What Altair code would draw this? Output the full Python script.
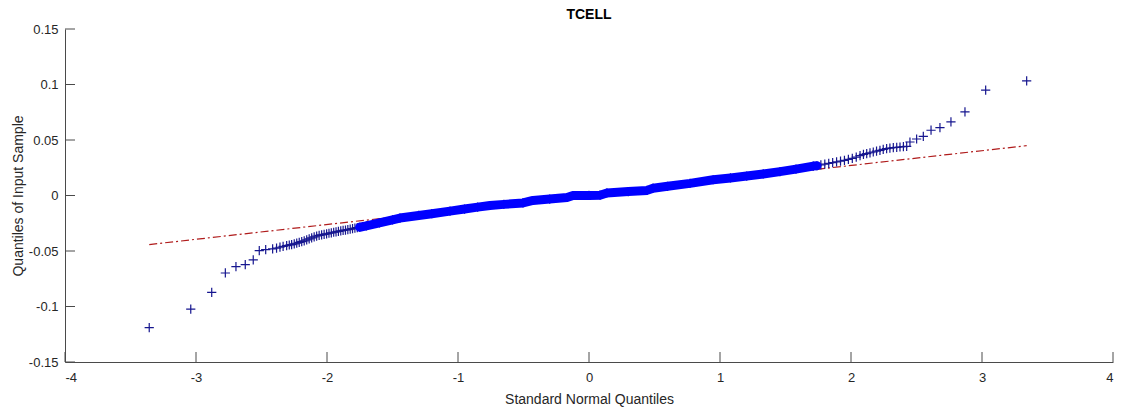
import altair as alt
import pandas as pd

# Lower tail of the sample (sparse points, then the comb leading into the core)
lower_x = [-3.357, -3.040, -2.880, -2.776, -2.695, -2.624, -2.563, -2.517, -2.468, -2.415,
           -2.385, -2.359, -2.335, -2.308, -2.288, -2.270, -2.250, -2.231, -2.212, -2.193,
           -2.174, -2.155, -2.136, -2.117, -2.098, -2.079, -2.060, -2.041, -2.022, -2.003,
           -1.985, -1.967, -1.949, -1.931, -1.913, -1.895, -1.877, -1.859, -1.841, -1.823,
           -1.805, -1.787, -1.769]
lower_y = [-0.1190, -0.1023, -0.0873, -0.0698, -0.0641, -0.0623, -0.0580, -0.0496, -0.0487, -0.0481,
           -0.0474, -0.0466, -0.0458, -0.0451, -0.0446, -0.0442, -0.0436, -0.0430, -0.0422, -0.0415,
           -0.0408, -0.0400, -0.0391, -0.0382, -0.0372, -0.0365, -0.0360, -0.0355, -0.0350, -0.0345,
           -0.0340, -0.0336, -0.0331, -0.0327, -0.0323, -0.0319, -0.0315, -0.0311, -0.0307, -0.0303,
           -0.0299, -0.0294, -0.0290]

# Dense core of the sample
core_x = [-1.751, -1.700, -1.600, -1.500, -1.443, -1.300, -1.200, -1.061, -0.950, -0.850,
          -0.756, -0.650, -0.504, -0.427, -0.300, -0.168, -0.122, 0.000, 0.084, 0.137,
          0.300, 0.443, 0.489, 0.600, 0.771, 0.948, 1.080, 1.204, 1.330, 1.458,
          1.580, 1.712, 1.740]
core_y = [-0.0286, -0.0273, -0.0246, -0.0219, -0.0203, -0.0180, -0.0164, -0.0141, -0.0122, -0.0105,
          -0.0090, -0.0080, -0.0067, -0.0045, -0.0032, -0.0018, 0.0000, 0.0001, 0.0003, 0.0023,
          0.0035, 0.0046, 0.0066, 0.0083, 0.0109, 0.0142, 0.0158, 0.0175, 0.0194, 0.0215,
          0.0238, 0.0265, 0.0268]

# Upper tail of the sample
upper_x = [1.770, 1.800, 1.830, 1.860, 1.890, 1.920, 1.950, 1.980, 2.010, 2.040,
           2.069, 2.095, 2.120, 2.145, 2.170, 2.195, 2.221, 2.246, 2.272, 2.297,
           2.323, 2.349, 2.374, 2.400, 2.425, 2.450, 2.501, 2.552, 2.611, 2.679,
           2.763, 2.870, 3.028, 3.341]
upper_y = [0.0275, 0.0282, 0.0289, 0.0296, 0.0303, 0.0310, 0.0317, 0.0325, 0.0334, 0.0345,
           0.0360, 0.0370, 0.0377, 0.0385, 0.0392, 0.0400, 0.0407, 0.0415, 0.0422, 0.0427,
           0.0431, 0.0434, 0.0437, 0.0440, 0.0443, 0.0482, 0.0509, 0.0533, 0.0588, 0.0612,
           0.0663, 0.0753, 0.0949, 0.1033]

# Reference line through the quartiles, drawn over the data range
ref_x = [-3.357, 3.341]
ref_y = [-0.0442, 0.0449]

x_ticks = [-4, -3, -2, -1, 0, 1, 2, 3, 4]
y_ticks = [-0.15, -0.1, -0.05, 0, 0.05, 0.1, 0.15]

W, H = 1048, 333
FONT = "Liberation Sans"
AXIS_COL = "#4a4a4a"
TEXT_COL = "#262626"

points = pd.DataFrame({"q": lower_x + core_x + upper_x, "v": lower_y + core_y + upper_y})
core = pd.DataFrame({"q": core_x, "v": core_y})
ref = pd.DataFrame({"q": ref_x, "v": ref_y})
xt = pd.DataFrame({"q": x_ticks})
yt = pd.DataFrame({"v": y_ticks})

xs = alt.Scale(domain=[-4, 4], nice=False, zero=False)
ys = alt.Scale(domain=[-0.15, 0.15], nice=False, zero=False)

x_axis = alt.Axis(
    values=x_ticks, tickSize=0, grid=False, labelPadding=9,
    labelExpr="'' + datum.value", labelFont=FONT, labelFontSize=13, labelColor=TEXT_COL,
    domainColor=AXIS_COL, domainWidth=1,
    title="Standard Normal Quantiles", titleFont=FONT, titleFontSize=14,
    titleFontWeight="normal", titleColor=TEXT_COL,
    titleX=W / 2, titleY=37, titleAlign="center", titleBaseline="middle",
)
y_axis = alt.Axis(
    values=y_ticks, tickSize=0, grid=False, labelPadding=7,
    labelExpr="'' + datum.value", labelFont=FONT, labelFontSize=13, labelColor=TEXT_COL,
    domainColor=AXIS_COL, domainWidth=1,
    title="Quantiles of Input Sample", titleFont=FONT, titleFontSize=14,
    titleFontWeight="normal", titleColor=TEXT_COL,
    titleX=-47, titleY=H / 2, titleAngle=270, titleAlign="center", titleBaseline="middle",
)

X = alt.X("q:Q", scale=xs, axis=x_axis)
Y = alt.Y("v:Q", scale=ys, axis=y_axis)

markers = alt.Chart(points).mark_point(
    shape="M-1,0L1,0M0,-1L0,1", filled=False, size=85, strokeWidth=1.2,
    color="#16168f", opacity=1,
).encode(x=X, y=Y)

band = alt.Chart(core).mark_line(
    color="#0000ff", strokeWidth=9, strokeCap="round", strokeJoin="round",
).encode(x=X, y=Y, order="q:Q")

ref_line = alt.Chart(ref).mark_line(
    color="#b01c1c", strokeWidth=1.2, strokeDash=[8, 3, 2, 3],
).encode(x=X, y=Y)

# Inward-pointing tick marks on both axes
x_tick_marks = alt.Chart(xt).mark_rule(color=AXIS_COL, strokeWidth=1).encode(
    x=X, y=alt.value(H), y2=alt.value(H - 10)
)
y_tick_marks = alt.Chart(yt).mark_rule(color=AXIS_COL, strokeWidth=1).encode(
    y=Y, x=alt.value(0), x2=alt.value(10)
)

chart = alt.layer(ref_line, markers, band, x_tick_marks, y_tick_marks).properties(
    width=W, height=H,
    autosize=alt.AutoSizeParams(type="none"),
    padding={"left": 65, "top": 29, "right": 15, "bottom": 51},
    background="white",
    title=alt.TitleParams(
        "TCELL", font=FONT, fontSize=14, fontWeight="bold", color="#000000",
        anchor="middle", frame="group", offset=1,
    ),
).configure_view(strokeWidth=0)

chart.save("out.html", embed_options={"renderer": "svg", "actions": False})
